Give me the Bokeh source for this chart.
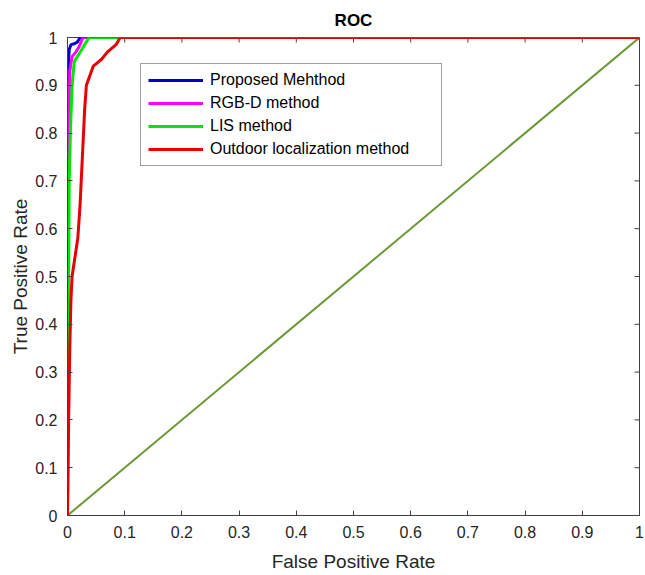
import math
from bokeh.plotting import figure
from bokeh.models import Range1d, Legend, LegendItem, FixedTicker
from bokeh.embed import file_html
from bokeh.resources import INLINE

# ---- data ----
prop_fpr = [0.0, 0.0, 0.002, 0.003, 0.006, 0.012, 0.017, 0.022, 1.0]
prop_tpr = [0.0, 0.70, 0.95, 0.975, 0.985, 0.987, 0.99, 1.0, 1.0]

rgbd_fpr = [0.0, 0.001, 0.002, 0.004, 0.008, 0.015, 0.02, 0.027, 1.0]
rgbd_tpr = [0.0, 0.50, 0.80, 0.93, 0.96, 0.97, 0.98, 1.0, 1.0]

lis_fpr = [0.0, 0.001, 0.002, 0.003, 0.005, 0.008, 0.012, 0.02, 0.03, 0.038, 1.0]
lis_tpr = [0.0, 0.30, 0.50, 0.70, 0.80, 0.90, 0.95, 0.965, 0.985, 1.0, 1.0]

out_fpr = [0.0, 0.002, 0.004, 0.006, 0.008, 0.018, 0.022, 0.026, 0.030, 0.033,
           0.036, 0.045, 0.052, 0.060, 0.070, 0.085, 0.092, 1.0]
out_tpr = [0.0, 0.20, 0.35, 0.45, 0.50, 0.58, 0.65, 0.75, 0.85, 0.90,
           0.91, 0.94, 0.947, 0.955, 0.97, 0.985, 1.0, 1.0]

diag_x = [0.0, 1.0]
diag_y = [0.0, 1.0]

names = ["Proposed Mehthod", "RGB-D method", "LIS method", "Outdoor localization method"]
colors = ["#0000c8", "#ff00ff", "#00e600", "#e60000"]

ticks = [0.0, 0.1, 0.2, 0.3, 0.4, 0.5, 0.6, 0.7, 0.8, 0.9, 1.0]
tick_labels = {0.0: "0", 0.1: "0.1", 0.2: "0.2", 0.3: "0.3", 0.4: "0.4", 0.5: "0.5",
               0.6: "0.6", 0.7: "0.7", 0.8: "0.8", 0.9: "0.9", 1.0: "1"}

FONT = "Liberation Sans"
TXT = "#262626"
AX = "#404040"

p = figure(width=645, height=575, output_backend="svg", toolbar_location=None,
           x_range=Range1d(0, 1), y_range=Range1d(0, 1),
           min_border_left=67, min_border_right=6, min_border_top=37, min_border_bottom=60,
           title="ROC")
p.background_fill_color = "white"
p.border_fill_color = "white"
p.outline_line_color = AX
p.outline_line_width = 1
p.xgrid.visible = False
p.ygrid.visible = False

p.title.text_font = FONT
p.title.text_font_size = "17px"
p.title.text_font_style = "bold"
p.title.text_color = "#000000"
p.title.align = "center"
p.title.vertical_align = "middle"
p.title.standoff = 14

for ax in (p.xaxis[0], p.yaxis[0]):
    ax.ticker = FixedTicker(ticks=ticks)
    ax.major_label_overrides = tick_labels
    ax.major_tick_in = 5
    ax.major_tick_out = 0
    ax.minor_tick_in = 0
    ax.minor_tick_out = 0
    ax.axis_line_color = AX
    ax.major_tick_line_color = AX
    ax.major_label_text_font = FONT
    ax.major_label_text_font_size = "16px"
    ax.major_label_text_color = TXT
    ax.axis_label_text_font = FONT
    ax.axis_label_text_font_size = "19px"
    ax.axis_label_text_font_style = "normal"
    ax.axis_label_text_color = TXT

p.xaxis[0].axis_label = "False Positive Rate"
p.yaxis[0].axis_label = "True Positive Rate"
p.xaxis[0].major_label_standoff = 10
p.yaxis[0].major_label_standoff = 10
p.xaxis[0].axis_label_standoff = 10
p.yaxis[0].axis_label_standoff = 1

# inward ticks on the top and right edges of the box (half of each dash is clipped by the frame)
p.scatter(ticks, [1.0] * len(ticks), marker="dash", size=10, angle=math.pi / 2,
          line_color=AX, line_width=1)
p.scatter([1.0] * len(ticks), ticks, marker="dash", size=10,
          line_color=AX, line_width=1)

p.line(diag_x, diag_y, line_color="#6b9a35", line_width=2)
r1 = p.line(prop_fpr, prop_tpr, line_color=colors[0], line_width=3)
r2 = p.line(rgbd_fpr, rgbd_tpr, line_color=colors[1], line_width=3)
r3 = p.line(lis_fpr, lis_tpr, line_color=colors[2], line_width=3)
r4 = p.line(out_fpr, out_tpr, line_color=colors[3], line_width=3)

legend = Legend(items=[LegendItem(label=n, renderers=[r]) for n, r in zip(names, [r1, r2, r3, r4])],
                location=(73, 349))
legend.label_text_font = FONT
legend.label_text_font_size = "16px"
legend.label_text_color = "#000000"
legend.glyph_width = 55
legend.glyph_height = 18
legend.label_height = 18
legend.label_width = 224
legend.label_standoff = 7
legend.spacing = 5
legend.padding = 7
legend.margin = 0
legend.border_line_color = AX
legend.border_line_width = 1
legend.background_fill_color = "white"
legend.background_fill_alpha = 1.0
p.add_layout(legend, "center")

open("out.html", "w").write(file_html(p, INLINE))
